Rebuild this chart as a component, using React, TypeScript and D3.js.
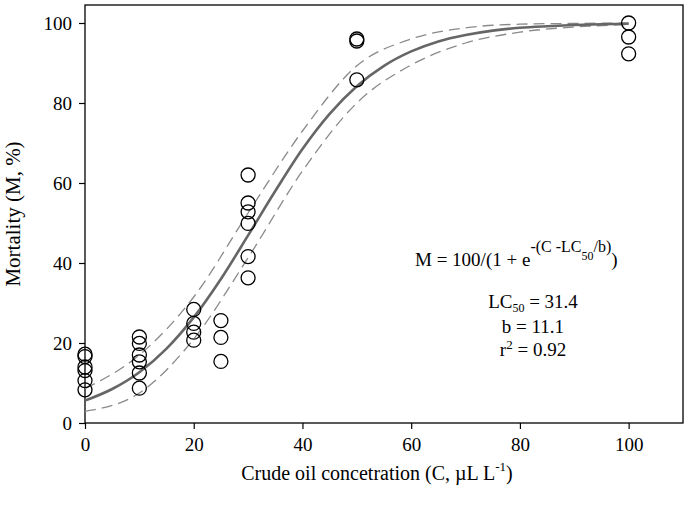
import { useEffect, useRef } from "react";
import * as d3 from "d3";

// observed mortality (%) at each crude oil concentration
const obsConc = [
  0, 0, 0, 0, 0, 0,
  10, 10, 10, 10, 10, 10,
  20, 20, 20, 20,
  25, 25, 25,
  30, 30, 30, 30, 30, 30,
  50, 50, 50,
  100, 100, 100,
];
const obsMort = [
  17.2, 16.6, 14.0, 13.1, 10.6, 8.3,
  21.5, 19.9, 17.0, 15.3, 12.5, 8.7,
  28.4, 24.9, 22.7, 20.7,
  25.6, 21.4, 15.4,
  62.0, 55.0, 52.8, 49.9, 41.6, 36.3,
  96.0, 95.5, 85.8,
  100.0, 96.5, 92.3,
];

// fitted curve and confidence bands
const fitConc = [0, 5, 10, 15, 20, 25, 30, 35, 40, 45, 50, 55, 60, 65, 70, 75, 80, 85, 90, 95, 100];
const fitMort = [5.6, 8.5, 12.7, 18.6, 26.4, 36.0, 46.9, 58.0, 68.5, 77.3, 84.2, 89.3, 92.9, 95.4, 97.0, 98.1, 98.8, 99.2, 99.5, 99.7, 99.8];
const bandConc = [0, 10, 20, 30, 40, 50, 60, 70, 80, 90, 100];
const upperMort = [8.6, 17.0, 31.5, 52.5, 73.0, 89.3, 96.0, 98.8, 99.7, 99.9, 100];
const lowerMort = [2.9, 7.5, 21.0, 41.3, 63.0, 80.0, 89.5, 95.0, 97.7, 99.0, 99.6];

const xTicks = [0, 20, 40, 60, 80, 100];
const yTicks = [0, 20, 40, 60, 80, 100];

export default function App() {
  const svgRef = useRef<SVGSVGElement>(null);

  useEffect(() => {
    const width = 689;
    const height = 508;
    const left = 85;
    const right = 683;
    const top = 5;
    const bottom = 423;
    const font = "'Liberation Serif', 'Times New Roman', serif";

    const svg = d3.select(svgRef.current);
    svg.selectAll("*").remove();
    svg.attr("width", width).attr("height", height).style("font-family", font);

    const x = d3.scaleLinear().domain([0, 110]).range([left, right]);
    const y = d3.scaleLinear().domain([0, 104.5]).range([bottom, top]);

    // frame
    svg
      .append("rect")
      .attr("x", left)
      .attr("y", top)
      .attr("width", right - left)
      .attr("height", bottom - top)
      .attr("fill", "none")
      .attr("stroke", "#000")
      .attr("stroke-width", 1.3);

    const xAxis = svg
      .append("g")
      .attr("transform", `translate(0, ${bottom})`)
      .call(d3.axisBottom(x).tickValues(xTicks).tickSize(6).tickSizeOuter(0).tickPadding(9));
    const yAxis = svg
      .append("g")
      .attr("transform", `translate(${left}, 0)`)
      .call(d3.axisLeft(y).tickValues(yTicks).tickSize(6).tickSizeOuter(0).tickPadding(7));

    [xAxis, yAxis].forEach((g) => {
      g.select(".domain").remove();
      g.selectAll("line").attr("stroke", "#000").attr("stroke-width", 1.2);
      g.selectAll("text")
        .attr("fill", "#000")
        .style("font-family", font)
        .style("font-size", "19px");
    });

    const bandLine = d3
      .line<number>()
      .x((_, i) => x(bandConc[i]))
      .y((d) => y(d))
      .curve(d3.curveMonotoneX);

    [upperMort, lowerMort].forEach((band) => {
      svg
        .append("path")
        .attr("d", bandLine(band))
        .attr("fill", "none")
        .attr("stroke", "#8a8a8a")
        .attr("stroke-width", 1.3)
        .attr("stroke-dasharray", "11,6");
    });

    const fitLine = d3
      .line<number>()
      .x((_, i) => x(fitConc[i]))
      .y((d) => y(d))
      .curve(d3.curveMonotoneX);

    svg
      .append("path")
      .attr("d", fitLine(fitMort))
      .attr("fill", "none")
      .attr("stroke", "#666")
      .attr("stroke-width", 2.6);

    svg
      .selectAll(".obs")
      .data(obsMort)
      .join("circle")
      .attr("class", "obs")
      .attr("cx", (_, i) => x(obsConc[i]))
      .attr("cy", (d) => y(d))
      .attr("r", 7)
      .attr("fill", "none")
      .attr("stroke", "#000")
      .attr("stroke-width", 1.3);

    // axis titles
    const xt = svg
      .append("text")
      .attr("x", 377)
      .attr("y", 480)
      .attr("text-anchor", "middle")
      .style("font-size", "20px")
      .text("Crude oil concetration (C, \u00b5L L");
    xt.append("tspan").attr("dy", -9).style("font-size", "13px").text("-1");
    xt.append("tspan").attr("dy", 9).text(")");

    svg
      .append("text")
      .attr("transform", "translate(20, 214) rotate(-90)")
      .attr("text-anchor", "middle")
      .style("font-size", "21px")
      .text("Mortality (M, %)");

    // equation
    const eq = svg
      .append("text")
      .attr("x", 415)
      .attr("y", 266)
      .style("font-size", "19px")
      .text("M = 100/(1 + e");
    eq.append("tspan").attr("dy", -14).style("font-size", "16px").text("-(C -LC");
    eq.append("tspan").attr("dy", 8).style("font-size", "12px").text("50");
    eq.append("tspan").attr("dy", -8).style("font-size", "16px").text("/b)");
    eq.append("tspan").attr("dy", 14).style("font-size", "19px").text(")");

    const lc = svg
      .append("text")
      .attr("x", 533)
      .attr("y", 308)
      .attr("text-anchor", "middle")
      .style("font-size", "19px")
      .text("LC");
    lc.append("tspan").attr("dy", 4).style("font-size", "12px").text("50");
    lc.append("tspan").attr("dy", -4).text(" = 31.4");

    svg
      .append("text")
      .attr("x", 533)
      .attr("y", 333)
      .attr("text-anchor", "middle")
      .style("font-size", "19px")
      .text("b = 11.1");

    const r2 = svg
      .append("text")
      .attr("x", 533)
      .attr("y", 356)
      .attr("text-anchor", "middle")
      .style("font-size", "19px")
      .text("r");
    r2.append("tspan").attr("dy", -7).style("font-size", "13px").text("2");
    r2.append("tspan").attr("dy", 7).text(" = 0.92");
  }, []);

  return (
    <div style={{ position: "absolute", left: 0, top: 0, background: "#fff" }}>
      <svg ref={svgRef} />
    </div>
  );
}
